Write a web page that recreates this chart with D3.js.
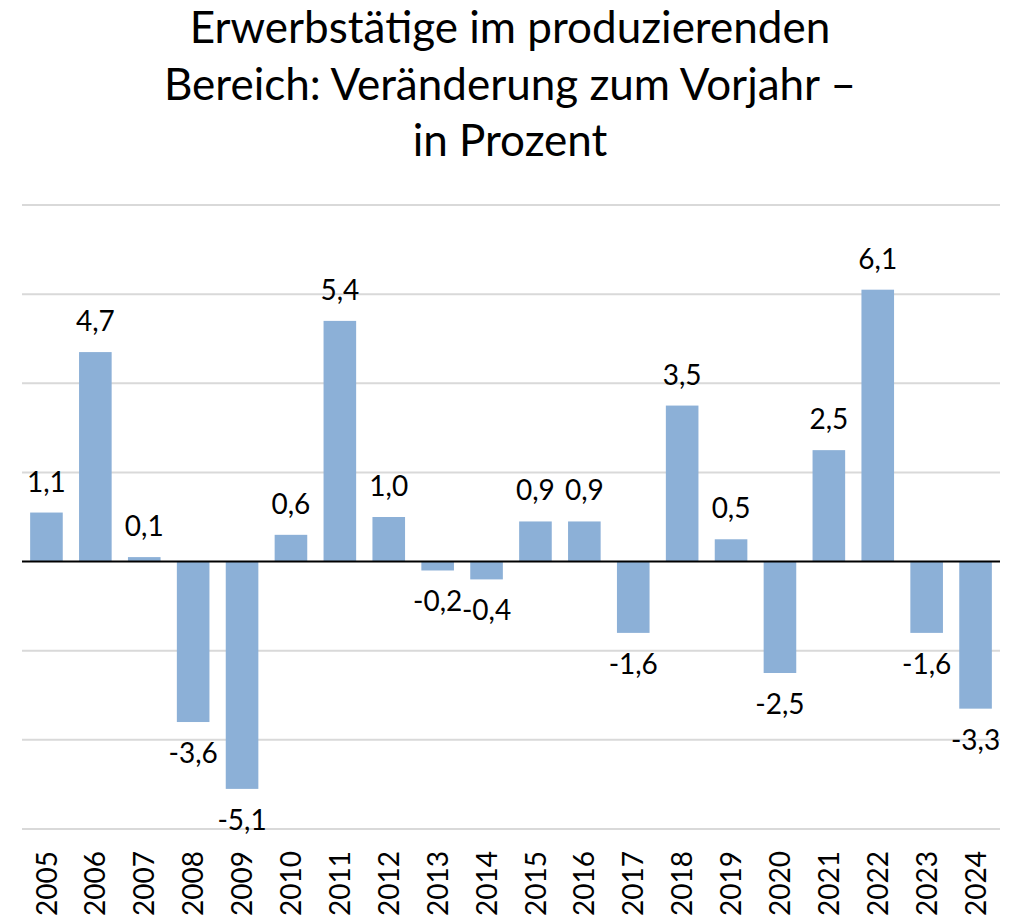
<!doctype html>
<html>
 <head>
  <meta charset='utf-8'>
  <title>Erwerbstätige im produzierenden Bereich</title>
  <script src='https://cdn.jsdelivr.net/npm/d3@7'></script>
  <style>
    html,body{
      margin:0;
      background:white;
    }
    svg{
      display:block;
      font-family:Lato,'Open Sans',sans-serif;
    }
  </style>
 </head>
 <body>
  <svg id='chart' width='1020' height='918'></svg>
 </body>
</html>
<script>

  // data
  var years  = ['2005','2006','2007','2008','2009','2010','2011','2012','2013','2014',
                '2015','2016','2017','2018','2019','2020','2021','2022','2023','2024']
  var values = [1.1,4.7,0.1,-3.6,-5.1,0.6,5.4,1.0,-0.2,-0.4,
                0.9,0.9,-1.6,3.5,0.5,-2.5,2.5,6.1,-1.6,-3.3]
  var ticks  = [-6,-4,-2,0,2,4,6,8]
  var title  = ['Erwerbstätige im produzierenden','Bereich: Veränderung zum Vorjahr –','in Prozent']

  var W = 1020, H = 918
  var plot = {left:22, right:1000, top:205, bottom:829}

  var svg = d3.select('#chart')

  var x = d3.scaleBand()
            .domain(years)
            .range([plot.left,plot.right])
            .paddingInner(1/3)
            .paddingOuter(1/6)

  var y = d3.scaleLinear()
            .domain([-6,8])
            .range([plot.bottom,plot.top])

  // title
  svg.append('text')
     .attr('text-anchor','middle')
     .attr('font-size',44)
     .attr('fill','#000')
     .selectAll('tspan')
     .data(title)
     .join('tspan')
     .attr('x',W/2)
     .attr('y',function(d,i){ return 43 + i*56.5 })
     .text(function(d){ return d })

  // gridlines
  svg.append('g')
     .selectAll('line')
     .data(ticks.filter(function(t){ return t !== 0 }))
     .join('line')
     .attr('x1',plot.left)
     .attr('x2',plot.right)
     .attr('y1',function(d){ return y(d) })
     .attr('y2',function(d){ return y(d) })
     .attr('stroke','#d9d9d9')
     .attr('stroke-width',2)

  // bars
  svg.append('g')
     .selectAll('rect')
     .data(values)
     .join('rect')
     .attr('x',function(d,i){ return x(years[i]) })
     .attr('width',x.bandwidth())
     .attr('y',function(d){ return y(Math.max(0,d)) })
     .attr('height',function(d){ return Math.abs(y(d) - y(0)) })
     .attr('fill','#8cb0d7')

  // zero line
  svg.append('line')
     .attr('x1',plot.left)
     .attr('x2',plot.right)
     .attr('y1',y(0))
     .attr('y2',y(0))
     .attr('stroke','#000')
     .attr('stroke-width',2)

  // value labels
  svg.append('g')
     .attr('font-size',28)
     .attr('text-anchor','middle')
     .attr('fill','#000')
     .selectAll('text')
     .data(values)
     .join('text')
     .attr('x',function(d,i){ return x(years[i]) + x.bandwidth()/2 })
     .attr('y',function(d){ return d >= 0 ? y(d) - 21 : y(d) + 41 })
     .text(function(d){ return d3.format('.1f')(d).replace('.',',').replace('−','-') })

  // x axis labels
  svg.append('g')
     .attr('font-size',28)
     .attr('text-anchor','end')
     .attr('fill','#000')
     .selectAll('text')
     .data(years)
     .join('text')
     .attr('transform',function(d){
       return 'translate(' + (x(d) + x.bandwidth()/2) + ',' + 851 + ') rotate(-90)'
     })
     .attr('dy','0.36em')
     .text(function(d){ return d })

</script>
